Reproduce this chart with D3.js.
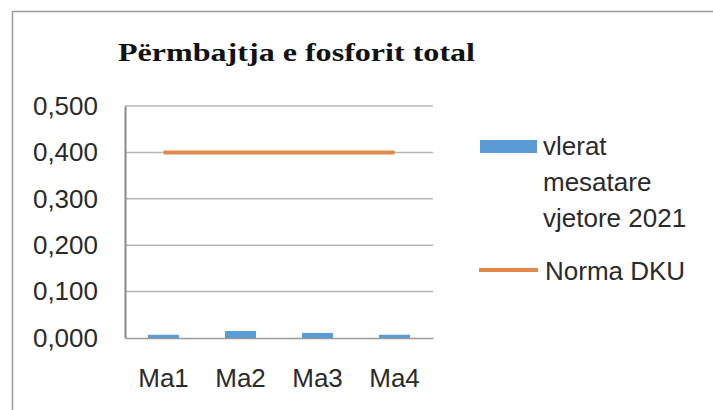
<!DOCTYPE html>
<html>
<head>
<meta charset="utf-8">
<script src="https://cdn.jsdelivr.net/npm/d3@7"></script>
<style>
  body { margin: 0; background: #fff; }
</style>
</head>
<body>
<script>
// Data
const categories = ["Ma1", "Ma2", "Ma3", "Ma4"];
const meanValues = [0.007, 0.015, 0.011, 0.007];
const normValues = [0.4, 0.4, 0.4, 0.4];
const yTicks = [0, 0.1, 0.2, 0.3, 0.4, 0.5];
const legendLabels = [["vlerat", "mesatare", "vjetore 2021"], ["Norma DKU"]];
const title = "Përmbajtja e fosforit total";

const W = 713, H = 410;
const plot = {left: 125, right: 433, top: 106, bottom: 338};
const sans = "Liberation Sans, Arial, sans-serif";

const svg = d3.select("body").append("svg")
    .attr("width", W)
    .attr("height", H);

// outer chart frame (only top and left visible)
svg.append("rect")
    .attr("x", 12.5).attr("y", 11.5)
    .attr("width", W + 20).attr("height", H + 20)
    .attr("fill", "none")
    .attr("stroke", "#9a9a9a")
    .attr("stroke-width", 1.5);

// title (the picture is stretched sideways, so widen the text)
svg.append("text")
    .attr("x", 118).attr("y", 61)
    .attr("font-family", "Liberation Serif, Times New Roman, serif")
    .attr("font-weight", "bold")
    .attr("font-size", 25)
    .attr("fill", "#111")
    .attr("textLength", 357)
    .attr("lengthAdjust", "spacingAndGlyphs")
    .text(title);

const x = d3.scaleBand()
    .domain(categories)
    .range([plot.left, plot.right]);

const y = d3.scaleLinear()
    .domain([0, 0.5])
    .range([plot.bottom, plot.top]);

// gridlines
svg.append("g")
  .selectAll("line")
  .data(yTicks.filter(d => d > 0))
  .join("line")
    .attr("x1", plot.left).attr("x2", plot.right)
    .attr("y1", d => y(d)).attr("y2", d => y(d))
    .attr("stroke", "#b5b5b5")
    .attr("stroke-width", 1.5);

// y axis
const yAxis = svg.append("g")
    .attr("transform", `translate(${plot.left},0)`)
    .call(d3.axisLeft(y).tickValues(yTicks).tickSize(0).tickPadding(27)
      .tickFormat(d => d3.format(".3f")(d).replace(".", ",")));
yAxis.select(".domain").attr("stroke", "#888").attr("stroke-width", 2);
yAxis.selectAll("text")
    .attr("font-family", sans)
    .attr("font-size", 26)
    .attr("fill", "#2a2a2a");

// x axis
const xAxis = svg.append("g")
    .attr("transform", `translate(0,${plot.bottom})`)
    .call(d3.axisBottom(x).tickSize(0).tickPadding(31));
xAxis.select(".domain").attr("stroke", "#999").attr("stroke-width", 1.5);
xAxis.selectAll("text")
    .attr("font-family", sans)
    .attr("font-size", 26)
    .attr("fill", "#2a2a2a");

// bars
const barW = 31;
svg.append("g")
  .selectAll("rect")
  .data(meanValues)
  .join("rect")
    .attr("x", (d, i) => x(categories[i]) + x.bandwidth() / 2 - barW / 2)
    .attr("y", d => y(d))
    .attr("width", barW)
    .attr("height", d => y(0) - y(d))
    .attr("fill", "#5b9bd5");

// norm line
const line = d3.line()
    .x((d, i) => x(categories[i]) + x.bandwidth() / 2)
    .y(d => y(d));
svg.append("path")
    .datum(normValues)
    .attr("d", line)
    .attr("fill", "none")
    .attr("stroke", "#e0894a")
    .attr("stroke-width", 4);

// legend
const lg = svg.append("g").attr("font-family", sans)
    .attr("font-size", 26).attr("fill", "#2a2a2a");
lg.append("rect")
    .attr("x", 480).attr("y", 140).attr("width", 57).attr("height", 13)
    .attr("fill", "#5b9bd5");
legendLabels[0].forEach((t, i) => {
  lg.append("text").attr("x", 543).attr("y", 155 + i * 36).text(t);
});
lg.append("line")
    .attr("x1", 479).attr("x2", 538).attr("y1", 270).attr("y2", 270)
    .attr("stroke", "#e0894a").attr("stroke-width", 4);
lg.append("text").attr("x", 545).attr("y", 280).text(legendLabels[1][0]);
</script>
</body>
</html>
